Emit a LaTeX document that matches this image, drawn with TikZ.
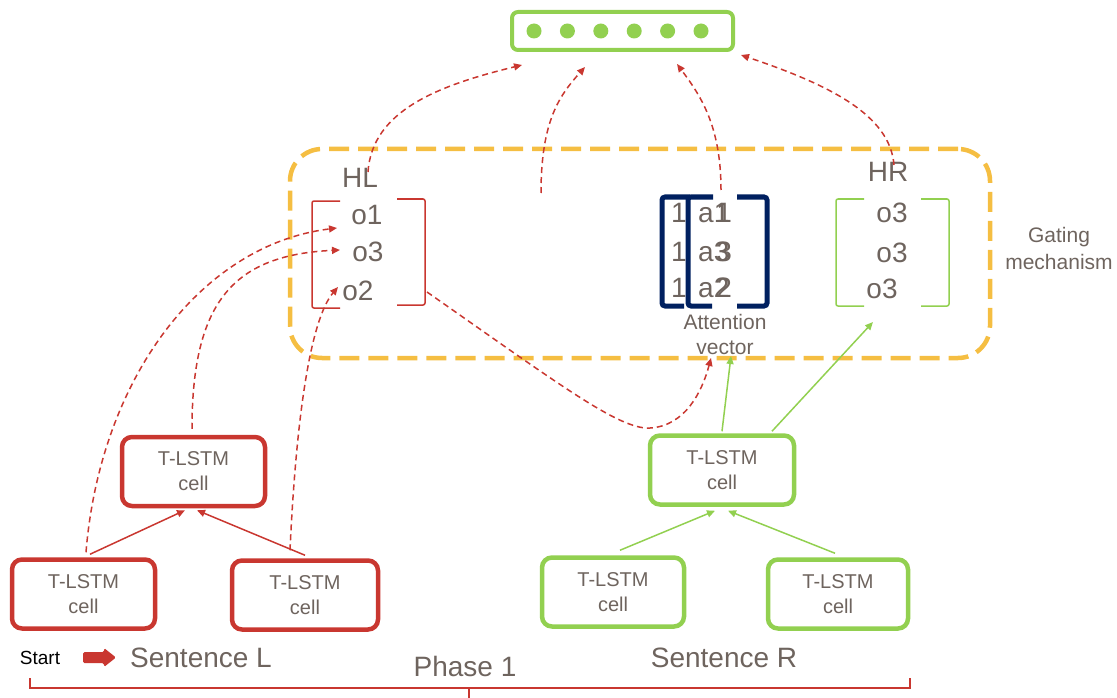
\documentclass[tikz,border=0pt]{standalone}
\usepackage{fontspec}
\setmainfont{Liberation Sans}
\usetikzlibrary{arrows.meta}
\definecolor{cellred}{RGB}{201,55,48}
\definecolor{cellgreen}{RGB}{146,208,80}
\definecolor{gateorange}{RGB}{245,190,66}
\definecolor{attnavy}{RGB}{0,32,96}
\definecolor{labelgray}{RGB}{110,100,94}
% a digit printed twice with a small offset
\newcommand{\twicedigit}[1]{\rlap{#1}\hspace{2.5pt}#1}

\begin{document}
\begin{tikzpicture}[x=1pt,y=-1pt,
  cell/.style={draw, line width=4.5pt, rounded corners=10pt, minimum width=143pt,
    minimum height=69pt, align=center, text=labelgray,
    font=\fontsize{20}{25}\selectfont, inner sep=0pt},
  redcell/.style={cell, draw=cellred},
  greencell/.style={cell, draw=cellgreen},
  vecentry/.style={text=labelgray, font=\fontsize{28}{30}\selectfont, inner sep=0pt},
  note/.style={text=labelgray, font=\fontsize{21}{26}\selectfont, align=center, inner sep=0pt},
  feed/.style={draw=cellred, line width=1.5pt, dash pattern=on 6pt off 4pt,
    -{Triangle[length=8pt,width=7pt]}},
  link/.style={line width=1.5pt, -{Triangle[length=8pt,width=7pt]}},
  bracketline/.style={line width=1.5pt, rounded corners=2pt},
  attbracket/.style={draw=attnavy, line width=5pt, rounded corners=3pt},
  gatebox/.style={draw=gateorange, line width=4.5pt, rounded corners=32pt,
    dash pattern=on 20pt off 9pt, inner sep=0pt},
  dot/.style={circle, fill=cellgreen, minimum size=15pt, inner sep=0pt}
]
\useasboundingbox (0,0) rectangle (1117,698);

% output layer
\node[draw=cellgreen, line width=4pt, rounded corners=6pt, minimum width=221pt,
  minimum height=38pt, inner sep=0pt] (out) at (622.5,31) {};
\foreach \i in {0,...,5}
  \node[dot] (d\i) at (534+33.4*\i,31) {};

% gating region
\node[gatebox, minimum width=700pt, minimum height=209pt] (gate) at (640,253.5) {};
\node[note] (gatelabel) at (1059,248) {Gating\\[1pt]mechanism};

% left hidden vector
\node[vecentry] (HL) at (360,178) {HL};
\node[vecentry] (l1) at (367,215) {o1};
\node[vecentry] (l2) at (368,252) {o3};
\node[vecentry] (l3) at (358,291) {o2};
\draw[bracketline, cellred] (340,201) -- (312,201) -- (312,308) -- (340,308);
\draw[bracketline, cellred] (397,199) -- (425,199) -- (425,305) -- (397,305);

% right hidden vector
\node[vecentry] (HR) at (888,172) {HR};
\node[vecentry] (r1) at (892,213) {o3};
\node[vecentry] (r2) at (892,253) {o3};
\node[vecentry] (r3) at (882,289) {o3};
\draw[bracketline, cellgreen] (864,199) -- (836,199) -- (836,306) -- (864,306);
\draw[bracketline, cellgreen] (921,199) -- (949,199) -- (949,306) -- (921,306);

% attention vector
\foreach \y [count=\k] in {213,252,288}
  \node[vecentry] (one\k) at (679,\y) {1};
\node[vecentry] (a1) at (715,213) {a\twicedigit{1}};
\node[vecentry] (a2) at (715,252) {a\twicedigit{3}};
\node[vecentry] (a3) at (715,288) {a\twicedigit{2}};
\draw[attbracket] (690,197) -- (662,197) -- (662,306) -- (684,306);
\draw[attbracket] (713,197) -- (688,197) -- (688,306) -- (712,306);
\draw[attbracket] (737,197) -- (767,197) -- (767,306) -- (737,306);
\node[note] (attlabel) at (725,334) {Attention\\[-1pt]vector};

% T-LSTM cells
\node[redcell] (rc) at (193.5,471.5) {T-LSTM\\cell};
\node[redcell] (rl) at (83.5,594) {T-LSTM\\cell};
\node[redcell, minimum width=146pt] (rr) at (305,595) {T-LSTM\\cell};
\node[greencell, minimum width=144pt] (gc) at (722,470) {T-LSTM\\cell};
\node[greencell, minimum width=142pt] (gl) at (613,592) {T-LSTM\\cell};
\node[greencell, minimum width=140pt] (gr) at (838,594) {T-LSTM\\cell};

% tree connections
\draw[link, cellred] ([xshift=6.5pt,yshift=3pt]rl.north) -- ([xshift=-8.5pt,yshift=-2pt]rc.south);
\draw[link, cellred] ([yshift=3pt]rr.north) -- ([xshift=3.5pt,yshift=-2pt]rc.south);
\draw[link, cellgreen] ([xshift=7pt,yshift=5pt]gl.north) -- ([xshift=-7pt,yshift=-4pt]gc.south);
\draw[link, cellgreen] ([xshift=-3pt,yshift=4pt]gr.north) -- ([xshift=6pt,yshift=-4pt]gc.south);
\coordinate (attin) at (731,356);
\coordinate (hrin) at (873,322);
\draw[link, cellgreen] ([yshift=2pt]gc.north) -- (attin);
\draw[link, cellgreen] ([xshift=50pt,yshift=2pt]gc.north) -- (hrin);

% hidden states fed into the left vector
\coordinate (l1in) at (337,228);
\coordinate (l2in) at (340,250);
\coordinate (l3in) at (338,287);
\draw[feed] ([xshift=2.5pt,yshift=5pt]rl.north) .. controls (100,380) and (200,245) .. (l1in);
\draw[feed] ([xshift=-1.5pt,yshift=6pt]rc.north) .. controls (192,300) and (235,255) .. (l2in);
\draw[feed] ([xshift=-15pt,yshift=8pt]rr.north) .. controls (296,420) and (310,320) .. (l3in);

% left vector to attention
\coordinate (hlout) at (427,292);
\draw[feed] (hlout) .. controls (560,385) and (620,430) .. (650,428)
  .. controls (685,426) and (702,392) .. (711,358);

% gated outputs into the output layer
\coordinate (hlup) at (368,172);
\coordinate (midup) at (541,193);
\coordinate (attup) at (721,190);
\coordinate (hrup) at (894,165);
\draw[feed] (hlup) .. controls (372,110) and (440,85) .. ([xshift=12pt,yshift=-13pt]out.south west);
\draw[feed] (midup) .. controls (541,120) and (560,95) .. ([xshift=-37.5pt,yshift=-15pt]out.south);
\draw[feed] (attup) .. controls (721,125) and (700,95) .. ([xshift=54.5pt,yshift=-12pt]out.south);
\draw[feed] (hrup) .. controls (890,115) and (830,85) .. ([xshift=6pt,yshift=-3pt]out.south east);

% sentence labels
\node[inner sep=0pt, font=\fontsize{19}{22}\selectfont] (start) at (40,658) {Start};
\fill[cellred, rounded corners=1.5pt] (83,652) -- (104,652) -- (104,648) -- (116,657.5)
  -- (104,667) -- (104,663) -- (83,663) -- cycle;
\node[inner sep=0pt, text=labelgray, font=\fontsize{28}{30}\selectfont] (sentL) at (201,658) {Sentence L};
\node[inner sep=0pt, text=labelgray, font=\fontsize{28}{30}\selectfont] (sentR) at (724,658) {Sentence R};
\node[inner sep=0pt, text=labelgray, font=\fontsize{28}{30}\selectfont] (phase) at (465,666) {Phase 1};

% phase brace
\draw[cellred, line width=1.5pt] (30,678) -- (30,688) -- (910,688) -- (910,678);
\draw[cellred, line width=1.5pt] (469,688) -- (469,698);
\end{tikzpicture}
\end{document}
